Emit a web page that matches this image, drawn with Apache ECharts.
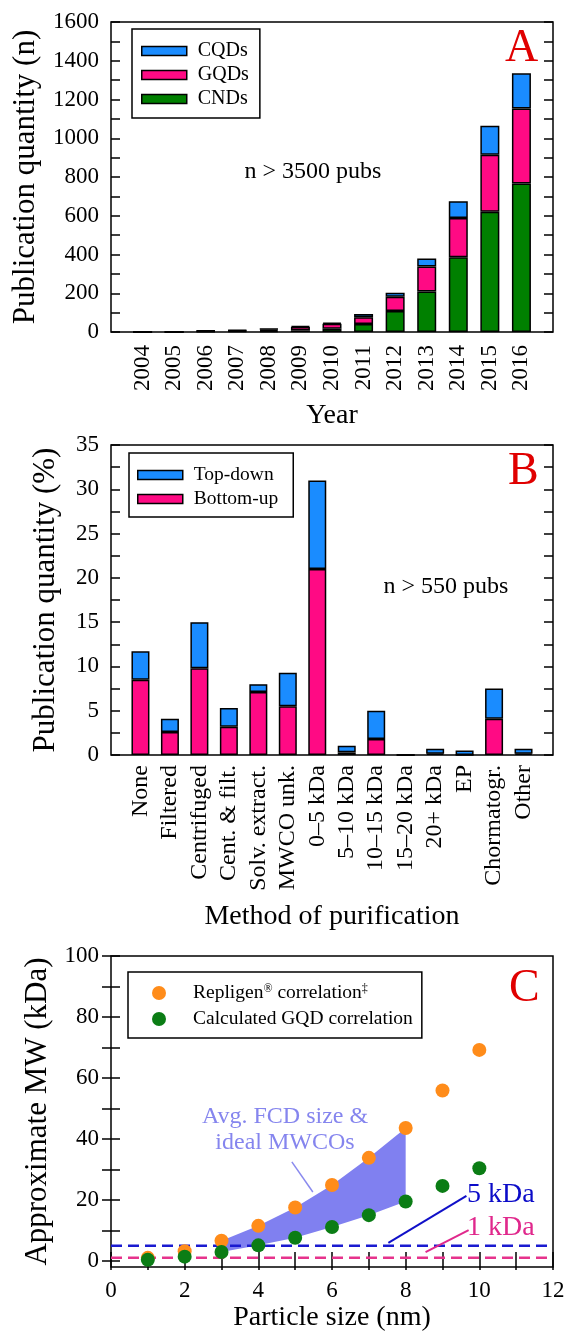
<!DOCTYPE html>
<html>
<head>
<meta charset="utf-8">
<script src="https://cdn.jsdelivr.net/npm/echarts@6/dist/echarts.min.js"></script>
<style>
  html, body { margin: 0; padding: 0; background: #fff; }
  #main { width: 564px; height: 1333px; }
</style>
</head>
<body>
<div id="main"></div>
<script>
// ---- Panel A: publications per year, by dot type ----
const years = ['2004', '2005', '2006', '2007', '2008', '2009', '2010', '2011', '2012', '2013', '2014', '2015', '2016'];
const cnds = [0, 0, 3, 4, 6, 8, 17, 41, 108, 209, 386, 621, 767];
const gqds = [0, 0, 3, 3, 7, 18, 25, 35, 74, 129, 203, 294, 387];
const cqds = [0, 0, 2, 3, 4, 5, 6, 17, 21, 41, 86, 149, 181];
const yTicksA = [0, 200, 400, 600, 800, 1000, 1200, 1400, 1600];

// ---- Panel B: purification method share (%) ----
const methods = ['None', 'Filtered', 'Centrifuged', 'Cent. & filt.', 'Solv. extract.', 'MWCO unk.',
  '0\u20135 kDa', '5\u201310 kDa', '10\u201315 kDa', '15\u201320 kDa', '20+ kDa', 'EP', 'Chormatogr.', 'Other'];
const bottomUp = [8.5, 2.6, 9.8, 3.2, 7.1, 5.5, 21.0, 0.3, 1.8, 0, 0.15, 0, 4.1, 0.15];
const topDown = [3.2, 1.5, 5.2, 2.1, 0.9, 3.8, 10.0, 0.75, 3.2, 0, 0.55, 0.5, 3.4, 0.55];
const yTicksB = [0, 5, 10, 15, 20, 25, 30, 35];

// ---- Panel C: molecular weight vs particle size ----
const sizesNm = [1, 2, 3, 4, 5, 6, 7, 8, 9, 10];
const repligenMw = [1.0, 3.2, 6.6, 11.5, 17.5, 24.9, 33.8, 43.6, 55.9, 69.2];
const gqdMw = [0.4, 1.4, 2.9, 5.1, 7.6, 11.1, 15.0, 19.5, 24.6, 30.4];
const bandSizes = [3, 4, 5, 6, 7, 8];          // FCD size range shaded between the two correlations
const cutoffs = [5, 1];                         // MWCO reference lines (kDa)
const yLabelsC = [0, 20, 40, 60, 80, 100];
const yTicksC = [0, 10, 20, 30, 40, 50, 60, 70, 80, 90, 100];

const FONT = 'Liberation Serif';
const BLACK = '#000';
const withEnds = arr => ['', ...arr, ''];
const withEndsData = arr => ['-', ...arr, '-'];
const pairs = (xs, ys) => xs.map((x, i) => [x, ys[i]]);
const plain = v => String(v);

const tickStyle = { color: BLACK, width: 1.5 };
const gridBase = { left: 111, width: 442, show: true, borderColor: BLACK, borderWidth: 1.5, outerBoundsMode: 'none' };
const labelStyle = { fontFamily: FONT, fontSize: 23, color: BLACK, formatter: plain };
const nameStyleX = { fontFamily: FONT, fontSize: 28, color: BLACK };
const nameStyleY = { fontFamily: FONT, fontSize: 31, color: BLACK };

function valueY(gridIndex, min, max, interval, right, name, nameGap) {
  return {
    gridIndex, type: 'value', min, max, interval,
    position: right ? 'right' : 'left',
    axisLine: { show: false },
    splitLine: { show: false },
    axisTick: { show: true, inside: true, length: 9, lineStyle: tickStyle },
    minorTick: { show: true, splitNumber: 2, length: 9, lineStyle: tickStyle },
    axisLabel: right ? { show: false } : Object.assign({ margin: 12 }, labelStyle),
    name: right ? '' : name,
    nameLocation: 'middle', nameGap, nameTextStyle: nameStyleY
  };
}

const chart = echarts.init(document.getElementById('main'));

const option = {
  animation: false,
  backgroundColor: '#fff',
  textStyle: { fontFamily: FONT },
  grid: [
    Object.assign({ top: 22, height: 310 }, gridBase),
    Object.assign({ top: 445, height: 310 }, gridBase),
    Object.assign({ top: 956, height: 311 }, gridBase)
  ],
  xAxis: [
    {
      gridIndex: 0, type: 'category', data: withEnds(years), boundaryGap: false,
      axisLine: { show: false }, axisTick: { show: false }, splitLine: { show: false },
      axisLabel: Object.assign({ rotate: 90, margin: 13, interval: 0 }, labelStyle),
      name: 'Year', nameLocation: 'middle', nameGap: 70, nameTextStyle: nameStyleX
    },
    {
      gridIndex: 1, type: 'category', data: withEnds(methods), boundaryGap: false,
      axisLine: { show: false }, axisTick: { show: false }, splitLine: { show: false },
      axisLabel: Object.assign({ rotate: 90, margin: 10, interval: 0 }, labelStyle, { fontSize: 24 }),
      name: 'Method of purification', nameLocation: 'middle', nameGap: 148, nameTextStyle: nameStyleX
    },
    {
      gridIndex: 2, type: 'value', min: 0, max: 12, interval: 2,
      axisLine: { show: false }, splitLine: { show: false },
      axisTick: { show: true, inside: true, length: 9, lineStyle: tickStyle },
      minorTick: { show: true, splitNumber: 2, length: 9, lineStyle: tickStyle },
      axisLabel: Object.assign({ margin: 12 }, labelStyle),
      name: 'Particle size (nm)', nameLocation: 'middle', nameGap: 37, nameTextStyle: nameStyleX
    },
    {
      gridIndex: 2, type: 'value', position: 'top', min: 0, max: 12, interval: 2,
      axisLine: { show: false }, splitLine: { show: false },
      axisTick: { show: true, inside: true, length: 9, lineStyle: tickStyle },
      minorTick: { show: true, splitNumber: 2, length: 9, lineStyle: tickStyle },
      axisLabel: { show: false }
    }
  ],
  yAxis: [
    valueY(0, yTicksA[0], yTicksA[yTicksA.length - 1], 200, false, 'Publication quantity (n)', 70),
    valueY(0, yTicksA[0], yTicksA[yTicksA.length - 1], 200, true),
    valueY(1, yTicksB[0], yTicksB[yTicksB.length - 1], 5, false, 'Publication quantity (%)', 50),
    valueY(1, yTicksB[0], yTicksB[yTicksB.length - 1], 5, true),
    {
      gridIndex: 2, type: 'value', min: -2, max: 100,
      axisLine: { show: false }, splitLine: { show: false },
      axisTick: { show: true, inside: true, length: 9, lineStyle: tickStyle, customValues: yTicksC },
      axisLabel: Object.assign({ margin: 12, customValues: yLabelsC }, labelStyle),
      name: 'Approximate MW (kDa)', nameLocation: 'middle', nameGap: 50, nameTextStyle: nameStyleY
    },
    {
      gridIndex: 2, type: 'value', min: -2, max: 100, position: 'right',
      axisLine: { show: false }, splitLine: { show: false },
      axisTick: { show: true, inside: true, length: 9, lineStyle: tickStyle, customValues: yTicksC },
      axisLabel: { show: false }
    }
  ],
  legend: [
    {
      data: ['CQDs', 'GQDs', 'CNDs'], orient: 'vertical', left: 132, top: 29,
      selectedMode: false, icon: 'rect', itemWidth: 45, itemHeight: 9, itemGap: 4,
      padding: [12, 11, 9, 9], borderColor: BLACK, borderWidth: 1.5,
      itemStyle: { borderColor: BLACK, borderWidth: 1.5 },
      textStyle: { fontFamily: FONT, fontSize: 20, lineHeight: 20, color: BLACK, padding: [0, 0, 0, 6] }
    },
    {
      data: ['Top-down', 'Bottom-up'], orient: 'vertical', left: 129, top: 453,
      selectedMode: false, icon: 'rect', itemWidth: 45, itemHeight: 9, itemGap: 4,
      padding: [12, 15, 8, 8], borderColor: BLACK, borderWidth: 1.5,
      itemStyle: { borderColor: BLACK, borderWidth: 1.5 },
      textStyle: { fontFamily: FONT, fontSize: 19.5, lineHeight: 20, color: BLACK, padding: [0, 0, 0, 6] }
    },
    {
      data: ['Repligen\u00ae correlation\u2021', 'Calculated GQD correlation'], orient: 'vertical',
      left: 128, top: 972, selectedMode: false, icon: 'circle', itemWidth: 14, itemHeight: 14, itemGap: 6,
      padding: [11, 9, 9, 24], borderColor: BLACK, borderWidth: 1.5,
      itemStyle: { borderWidth: 0 },
      formatter: name => name.replace('\u00ae', '{sup|\u00ae}').replace('\u2021', '{sup|\u2021}'),
      textStyle: {
        fontFamily: FONT, fontSize: 19.5, lineHeight: 20, color: BLACK, padding: [0, 0, 0, 22],
        rich: { sup: { fontFamily: FONT, fontSize: 12, lineHeight: 20, verticalAlign: 'top', color: BLACK } }
      }
    }
  ],
  series: [
    // Panel A stacked bars
    { name: 'CNDs', type: 'bar', xAxisIndex: 0, yAxisIndex: 0, stack: 'year', barWidth: 19,
      data: withEndsData(cnds), itemStyle: { color: '#008000', borderColor: BLACK, borderWidth: 1.5 } },
    { name: 'GQDs', type: 'bar', xAxisIndex: 0, yAxisIndex: 0, stack: 'year', barWidth: 19,
      data: withEndsData(gqds), itemStyle: { color: '#ff0a84', borderColor: BLACK, borderWidth: 1.5 } },
    { name: 'CQDs', type: 'bar', xAxisIndex: 0, yAxisIndex: 0, stack: 'year', barWidth: 19,
      data: withEndsData(cqds), itemStyle: { color: '#1a8cff', borderColor: BLACK, borderWidth: 1.5 } },

    // Panel B stacked bars
    { name: 'Bottom-up', type: 'bar', xAxisIndex: 1, yAxisIndex: 2, stack: 'method', barWidth: 18,
      data: withEndsData(bottomUp), itemStyle: { color: '#ff0a84', borderColor: BLACK, borderWidth: 1.5 } },
    { name: 'Top-down', type: 'bar', xAxisIndex: 1, yAxisIndex: 2, stack: 'method', barWidth: 18,
      data: withEndsData(topDown), itemStyle: { color: '#1a8cff', borderColor: BLACK, borderWidth: 1.5 } },

    // Panel C: shaded band between the two correlations over the FCD size range
    {
      name: 'band', type: 'custom', xAxisIndex: 2, yAxisIndex: 4, z: 1, silent: true,
      data: [0],
      renderItem: (params, api) => {
        const upper = bandSizes.map(s => api.coord([s, repligenMw[sizesNm.indexOf(s)]]));
        const lower = bandSizes.slice().reverse().map(s => api.coord([s, gqdMw[sizesNm.indexOf(s)]]));
        return { type: 'polygon', shape: { points: upper.concat(lower) }, style: { fill: '#8080f0' } };
      }
    },
    // MWCO cutoff lines with their leader lines
    {
      name: '5 kDa', type: 'line', xAxisIndex: 2, yAxisIndex: 4, z: 2, silent: true, symbol: 'none',
      data: [[0, cutoffs[0]], [12, cutoffs[0]]],
      lineStyle: { color: '#1a1ad0', width: 2.5, type: [11, 6] },
      markLine: {
        silent: true, symbol: 'none', label: { show: false },
        lineStyle: { color: '#1010c8', width: 2, type: 'solid' },
        data: [[{ coord: [7.53, 5.9] }, { coord: [9.65, 21.3] }]]
      }
    },
    {
      name: '1 kDa', type: 'line', xAxisIndex: 2, yAxisIndex: 4, z: 2, silent: true, symbol: 'none',
      data: [[0, cutoffs[1]], [12, cutoffs[1]]],
      lineStyle: { color: '#e6338c', width: 2.5, type: [11, 6] },
      markLine: {
        silent: true, symbol: 'none', label: { show: false },
        lineStyle: { color: '#e0288c', width: 2, type: 'solid' },
        data: [[{ coord: [8.54, 2.9] }, { coord: [9.71, 10.1] }]]
      }
    },
    {
      name: 'Repligen\u00ae correlation\u2021', type: 'scatter', xAxisIndex: 2, yAxisIndex: 4, z: 3,
      symbolSize: 14, data: pairs(sizesNm, repligenMw), itemStyle: { color: '#ff8c1a', opacity: 1 },
      markLine: {
        silent: true, symbol: 'none', label: { show: false },
        lineStyle: { color: '#8a8aee', width: 1.5, type: 'solid' },
        data: [[{ coord: [4.91, 32.5] }, { coord: [5.48, 22.6] }]]
      }
    },
    {
      name: 'Calculated GQD correlation', type: 'scatter', xAxisIndex: 2, yAxisIndex: 4, z: 4,
      symbolSize: 14, data: pairs(sizesNm, gqdMw), itemStyle: { color: '#0b7d15', opacity: 1 }
    }
  ],
  graphic: [
    { type: 'text', left: 505, top: 26, style: { text: 'A', font: '46px "Liberation Serif"', fill: '#e00000' } },
    { type: 'text', left: 508, top: 449, style: { text: 'B', font: '46px "Liberation Serif"', fill: '#e00000' } },
    { type: 'text', left: 509, top: 966, style: { text: 'C', font: '46px "Liberation Serif"', fill: '#e00000' } },
    { type: 'text', x: 313, y: 172, style: { text: 'n > 3500 pubs', font: '24px "Liberation Serif"', fill: BLACK, align: 'center', verticalAlign: 'middle' } },
    { type: 'text', x: 446, y: 587, style: { text: 'n > 550 pubs', font: '24px "Liberation Serif"', fill: BLACK, align: 'center', verticalAlign: 'middle' } },
    { type: 'text', x: 285, y: 1117, style: { text: 'Avg. FCD size &', font: '24px "Liberation Serif"', fill: '#8585ee', align: 'center', verticalAlign: 'middle' } },
    { type: 'text', x: 285, y: 1143, style: { text: 'ideal MWCOs', font: '24px "Liberation Serif"', fill: '#8585ee', align: 'center', verticalAlign: 'middle' } },
    { type: 'text', x: 467, y: 1195, style: { text: '5 kDa', font: '28px "Liberation Serif"', fill: '#0b0bc8', align: 'left', verticalAlign: 'middle' } },
    { type: 'text', x: 467, y: 1228, style: { text: '1 kDa', font: '28px "Liberation Serif"', fill: '#e0288c', align: 'left', verticalAlign: 'middle' } }
  ]
};

chart.setOption(option);
</script>
</body>
</html>
